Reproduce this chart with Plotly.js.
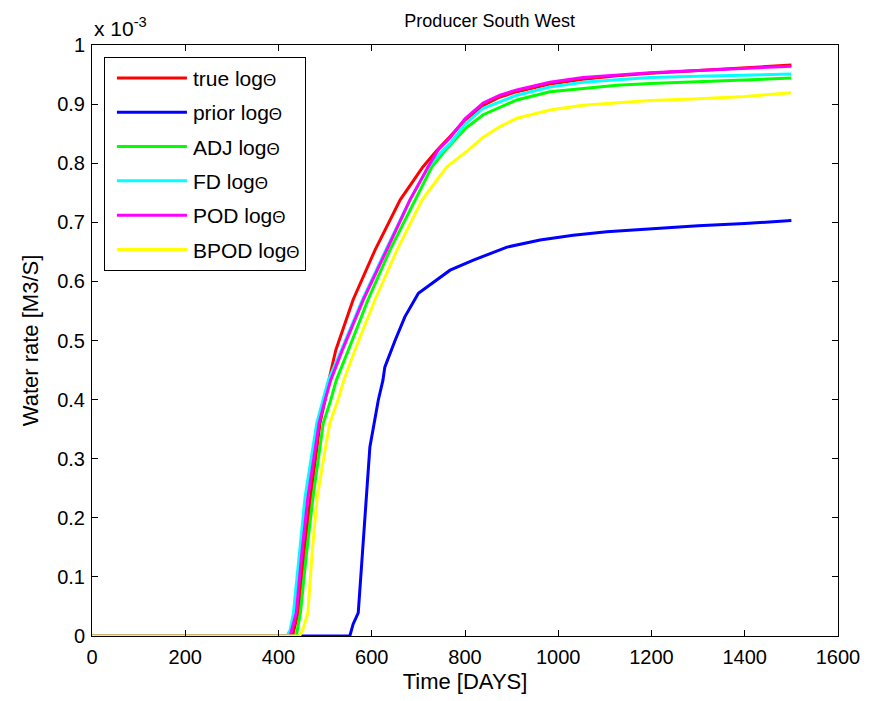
<!DOCTYPE html>
<html>
<head>
<meta charset="utf-8">
<script src="https://cdn.plot.ly/plotly-3.0.1.min.js"></script>
<style>html,body{margin:0;padding:0;background:#fff;}#chart{width:873px;height:701px;}</style>
</head>
<body>
<div id="chart"></div>
<script>
// Water rate values in units of 1e-3 M3/S
const trueDays = [0, 430, 442, 455, 469, 489, 500, 510, 523, 560, 607, 661, 710, 740, 768, 800, 839, 875, 911, 982, 1053, 1126, 1197, 1300, 1400, 1500];
const trueVals = [0, 0, 0.039, 0.14, 0.235, 0.36, 0.40, 0.44, 0.484, 0.569, 0.653, 0.738, 0.794, 0.822, 0.845, 0.873, 0.898, 0.912, 0.921, 0.934, 0.942, 0.948, 0.952, 0.957, 0.961, 0.966];

const priorDays = [0, 553, 560, 571, 580, 589, 596, 609, 614, 624, 628, 650, 671, 700, 746, 768, 818, 875, 890, 961, 1032, 1104, 1175, 1300, 1400, 1500];
const priorVals = [0, 0, 0.02, 0.039, 0.14, 0.235, 0.32, 0.377, 0.399, 0.433, 0.455, 0.50, 0.540, 0.580, 0.606, 0.619, 0.636, 0.653, 0.658, 0.670, 0.678, 0.684, 0.688, 0.694, 0.698, 0.703];

const adjDays = [0, 438, 447, 460, 474, 496, 512, 524, 550, 592, 639, 693, 729, 758, 800, 839, 911, 982, 1053, 1126, 1197, 1300, 1400, 1500];
const adjVals = [0, 0, 0.039, 0.14, 0.235, 0.36, 0.399, 0.433, 0.484, 0.569, 0.653, 0.738, 0.794, 0.822, 0.858, 0.882, 0.907, 0.921, 0.927, 0.932, 0.935, 0.938, 0.941, 0.944];

const fdDays = [0, 418, 425, 432, 445, 457, 482, 495, 507, 535, 580, 630, 682, 722, 748, 770, 800, 839, 911, 982, 1053, 1126, 1197, 1300, 1400, 1500];
const fdVals = [0, 0, 0.01, 0.039, 0.14, 0.235, 0.36, 0.40, 0.433, 0.484, 0.569, 0.653, 0.738, 0.794, 0.818, 0.835, 0.866, 0.893, 0.915, 0.929, 0.937, 0.941, 0.945, 0.947, 0.949, 0.951];

const podDays = [0, 425, 438, 450, 463, 487, 500, 512, 537, 582, 632, 682, 721, 742, 768, 800, 839, 875, 911, 982, 1053, 1126, 1197, 1300, 1400, 1500];
const podVals = [0, 0, 0.039, 0.14, 0.235, 0.36, 0.40, 0.433, 0.484, 0.569, 0.653, 0.738, 0.794, 0.822, 0.843, 0.875, 0.902, 0.915, 0.924, 0.937, 0.945, 0.949, 0.953, 0.957, 0.960, 0.964];

const bpodDays = [0, 445, 452, 463, 472, 483, 500, 510, 528, 540, 564, 607, 654, 708, 761, 807, 839, 875, 911, 982, 1053, 1126, 1197, 1300, 1400, 1500];
const bpodVals = [0, 0, 0.01, 0.039, 0.14, 0.235, 0.315, 0.36, 0.40, 0.433, 0.484, 0.569, 0.653, 0.738, 0.794, 0.822, 0.844, 0.862, 0.876, 0.890, 0.898, 0.902, 0.906, 0.909, 0.913, 0.919];

const seriesNames = ['true log', 'prior log', 'ADJ log', 'FD log', 'POD log', 'BPOD log'];
const seriesColors = ['#ff0000', '#0000ff', '#00ff00', '#00ffff', '#ff00ff', '#ffff00'];
const seriesX = [trueDays, priorDays, adjDays, fdDays, podDays, bpodDays];
const seriesY = [trueVals, priorVals, adjVals, fdVals, podVals, bpodVals];

const xTicks = [0, 200, 400, 600, 800, 1000, 1200, 1400, 1600];

const traces = seriesNames.map((n, i) => ({
  x: seriesX[i], y: seriesY[i], type: 'scatter', mode: 'lines',
  name: n + '<span style="font-size:17px">Θ</span>',
  legendgroup: 'g' + i,
  line: {color: seriesColors[i], width: 3}
}));

const axisCommon = {
  showline: true, linecolor: '#000', linewidth: 1, mirror: 'allticks',
  ticks: 'inside', ticklen: 6, tickcolor: '#000', tickwidth: 1,
  showgrid: false, zeroline: false,
  tickfont: {family: 'Arial, Liberation Sans, sans-serif', size: 20, color: '#000'}
};

const layout = {
  width: 873, height: 701,
  paper_bgcolor: '#fff', plot_bgcolor: '#fff',
  margin: {l: 92, r: 35, t: 45, b: 65},
  font: {family: 'Arial, Liberation Sans, sans-serif', color: '#000'},
  title: {text: 'Producer South West', font: {size: 18, color: '#000'}, x: 0.561, xanchor: 'center', y: 0.971, yanchor: 'middle'},
  xaxis: Object.assign({}, axisCommon, {
    range: [0, 1600], tickvals: xTicks, ticklabelstandoff: 3,
    title: {text: 'Time [DAYS]', font: {size: 22}, standoff: 6}
  }),
  yaxis: Object.assign({}, axisCommon, {
    range: [0, 1], dtick: 0.1, tick0: 0, ticklabelstandoff: 2,
    title: {text: 'Water rate [M3/S]', font: {size: 22}, standoff: 12}
  }),
  showlegend: true,
  legend: {
    x: 0.016, y: 0.98, xanchor: 'left', yanchor: 'top',
    bgcolor: '#fff', bordercolor: '#000', borderwidth: 1,
    font: {size: 21, color: '#000'},
    traceorder: 'grouped', tracegroupgap: 4, itemwidth: 78
  },
  annotations: [{
    text: 'x 10<sup>-3</sup>', xref: 'paper', yref: 'paper',
    x: 0, y: 1, xanchor: 'left', yanchor: 'bottom', yshift: 3, showarrow: false,
    font: {size: 21, color: '#000'}
  }]
};

Plotly.newPlot('chart', traces, layout, {displayModeBar: false, staticPlot: true}).then(gd => {
  // lengthen legend line samples to match the reference look
  gd.querySelectorAll('.legend .legendlines path').forEach(p => p.setAttribute('d', 'M12,0h70'));
});
</script>
</body>
</html>
